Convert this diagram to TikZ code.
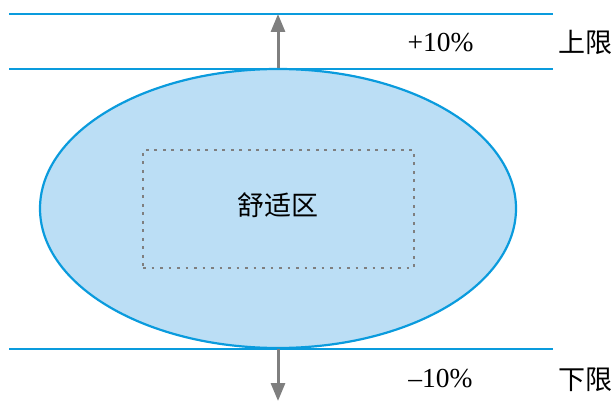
\documentclass[tikz,border=0pt]{standalone}
\usepackage{fontspec}
\setmainfont{Liberation Serif}
\newfontfamily\cjk{Noto Sans CJK SC}
\usetikzlibrary{arrows.meta,shapes.geometric}
\definecolor{lineblue}{HTML}{0A9BDD}
\definecolor{fillblue}{HTML}{BBDEF5}
\definecolor{arrowgray}{HTML}{7F7F7F}
\begin{document}
\begin{tikzpicture}[x=1pt,y=-1pt,
  limitline/.style={draw=lineblue,line width=2.4pt},
  bigarrow/.style={draw=arrowgray,line width=3pt,-{Triangle[length=18pt,width=14pt]}},
  lbl/.style={inner sep=0pt,font=\fontsize{27.5}{32}\selectfont},
  cjklbl/.style={inner sep=0pt,font=\cjk\fontsize{27}{32}\selectfont}]
\useasboundingbox (0,0) rectangle (616,401);
\coordinate (t1) at (9,14);   \coordinate (t2) at (553,14);
\coordinate (u1) at (9,69);   \coordinate (u2) at (553,69);
\coordinate (d1) at (9,349);  \coordinate (d2) at (553,349);
\node[draw=lineblue,fill=fillblue,line width=2.2pt,ellipse,minimum width=476pt,minimum height=279pt,inner sep=0pt] (ell) at (278,208.5) {};
\draw[limitline] (t1) -- (t2);
\draw[limitline] (u1) -- (u2);
\draw[limitline] (d1) -- (d2);
\node[draw=arrowgray,line width=2.8pt,dash pattern=on 2.8pt off 5.7pt,minimum width=271pt,minimum height=118pt,inner sep=0pt] (zone) at (278.5,209) {};
\node[cjklbl] (zl) at (277.5,205) {舒适区};
\coordinate (ut) at (278,14);
\coordinate (dt) at (278,401);
\draw[bigarrow] (ell.north) -- (ut);
\draw[bigarrow] (ell.south) -- (dt);
\node[lbl] (p10) at (440.5,43) {+10\%};
\node[lbl] (m10) at (440.5,379) {\textendash10\%};
\node[cjklbl] (up) at (585,42) {上限};
\node[cjklbl] (dn) at (585,380) {下限};
\end{tikzpicture}
\end{document}
